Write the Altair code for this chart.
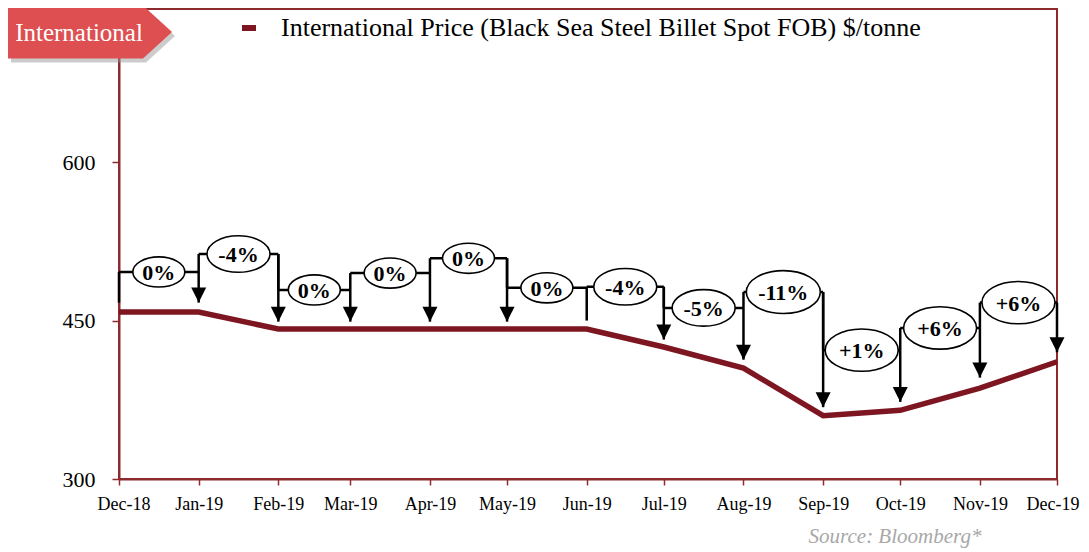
import altair as alt
import pandas as pd

# ---------------- data ----------------
months = ["2018-12-01T00:00:00", "2019-01-01T00:00:00", "2019-02-01T00:00:00",
          "2019-03-01T00:00:00", "2019-04-01T00:00:00", "2019-05-01T00:00:00",
          "2019-06-01T00:00:00", "2019-07-01T00:00:00", "2019-08-01T00:00:00",
          "2019-09-01T00:00:00", "2019-10-01T00:00:00", "2019-11-01T00:00:00",
          "2019-12-01T00:00:00"]
prices = [458, 458, 442, 442, 442, 442, 442, 425, 405, 360, 365, 386, 411]
series_name = "International Price (Black Sea Steel Billet Spot FOB) $/tonne"

change_labels = ["0%", "-4%", "0%", "0%", "0%", "0%", "-4%", "-5%", "-11%", "+1%", "+6%", "+6%"]
bracket_levels = [496, 513, 479, 495, 509, 481, 482, 462, 477, 422, 443, 467]
arrow_tips = [467, 449, 449, 449, 449, 450, 432, 413, 368, 373, 396, 420]
has_arrow = [True, True, True, True, True, False, True, True, True, True, True, True]
first_base = 467
y_ticks = [300, 450, 600]
tag_text = ["International"]
source_text = ["Source: Bloomberg*"]

# ---------------- tables ----------------
price_df = pd.DataFrame({"month": months, "price": prices, "series": series_name})

ann = pd.DataFrame({
    "start": months[:-1],
    "end": months[1:],
    "label": change_labels,
    "level": bracket_levels,
    "tip": arrow_tips,
    "arrow": has_arrow,
})
ann["base"] = [first_base] + bracket_levels[:-1]
s = pd.to_datetime(ann["start"])
e = pd.to_datetime(ann["end"])
ann["mid"] = (s + (e - s) / 2).dt.strftime("%Y-%m-%dT%H:%M:%S")

tag_df = pd.DataFrame({"t": tag_text})
src_df = pd.DataFrame({"t": source_text})

LINE = "#7D1621"
AXIS = "#8E2A2E"
FONT = "Liberation Serif"

x_enc = alt.X("month:T", title=None,
              scale=alt.Scale(nice=False),
              axis=alt.Axis(format="%b-%y", tickCount={"interval": "month", "step": 1},
                            labelFontSize=18, labelPadding=10, tickSize=6,
                            labelFlush=True, labelFlushOffset=22, labelOverlap=False))
y_scale = alt.Scale(domain=[300, 745], nice=False, zero=False)
y_enc = alt.Y("price:Q", title=None, scale=y_scale,
              axis=alt.Axis(values=y_ticks, labelFontSize=22, labelPadding=17, tickSize=7))

line = alt.Chart(price_df).mark_line(strokeWidth=5.5).encode(
    x=x_enc, y=y_enc,
    color=alt.Color("series:N", scale=alt.Scale(range=[LINE]),
                    legend=alt.Legend(title=None, orient="none", legendX=117, legendY=6,
                                      symbolType="stroke", symbolStrokeWidth=6, symbolSize=196,
                                      labelFontSize=26, labelFont=FONT, labelLimit=0,
                                      labelOffset=19, padding=0)),
)

base_ann = alt.Chart(ann)
hrules = base_ann.mark_rule(color="black", strokeWidth=2.5).encode(
    x="start:T", x2="end:T", y=alt.Y("level:Q", scale=y_scale))
vstart = base_ann.mark_rule(color="black", strokeWidth=2.5).encode(
    x="start:T", y=alt.Y("level:Q", scale=y_scale), y2="base:Q")
vend = base_ann.mark_rule(color="black", strokeWidth=2.5).encode(
    x="end:T", y=alt.Y("level:Q", scale=y_scale), y2="tip:Q")
arrows = base_ann.transform_filter("datum.arrow").mark_point(
    shape="M-1,-2L1,-2L0,0Z", size=225, filled=True, color="black", opacity=1
).encode(x="end:T", y=alt.Y("tip:Q", scale=y_scale))
ellipses = base_ann.transform_calculate(
    w="30 + 11*length(datum.label) + (indexof(datum.label,'+') >= 0 ? 10 : 0)"
).transform_calculate(sz="datum.w*datum.w").mark_point(
    shape="M-1,0A1,0.58,0,1,1,1,0A1,0.58,0,1,1,-1,0Z",
    fill="white", stroke="black", strokeWidth=1.6, opacity=1, fillOpacity=1, filled=False
).encode(x="mid:T", y=alt.Y("level:Q", scale=y_scale), size=alt.Size("sz:Q", scale=None))
labels = base_ann.mark_text(font=FONT, fontSize=22, fontWeight="bold", color="black",
                            baseline="middle", dy=1).encode(
    x="mid:T", y=alt.Y("level:Q", scale=y_scale), text="label:N")

TAG_PATH = "M-1,-0.323L0.646,-0.323L1,0L0.646,0.323L-1,0.323Z"
tag_shadow = alt.Chart(tag_df).mark_point(
    shape=TAG_PATH, size=26896, filled=True, color="#9a9a9a", opacity=0.5
).encode(x=alt.value(-26), y=alt.value(27))
tag = alt.Chart(tag_df).mark_point(
    shape=TAG_PATH, size=26896, filled=True, color="#DD4F51", opacity=1
).encode(x=alt.value(-29), y=alt.value(23))
tag_label = alt.Chart(tag_df).mark_text(
    font=FONT, fontSize=25, color="white", align="center", baseline="middle"
).encode(x=alt.value(-40), y=alt.value(24), text="t:N")
source = alt.Chart(src_df).mark_text(
    font=FONT, fontSize=21, fontStyle="italic", color="#A8A8A8", align="center", baseline="middle"
).encode(x=alt.value(776), y=alt.value(528), text="t:N")

chart = alt.layer(
    line, hrules, vstart, vend, arrows, ellipses, labels,
    tag_shadow, tag, tag_label, source
).properties(
    width=938, height=470,
    autosize=alt.AutoSizeParams(type="none"),
    padding={"left": 111, "top": 1, "right": 24, "bottom": 70},
).configure_view(
    stroke=AXIS, strokeWidth=2
).configure_axis(
    grid=False, domainColor=AXIS, domainWidth=2, tickColor=AXIS, tickWidth=1.5,
    labelFont=FONT, labelColor="black"
)

chart.save("out.html", embed_options={"renderer": "svg", "actions": False})
